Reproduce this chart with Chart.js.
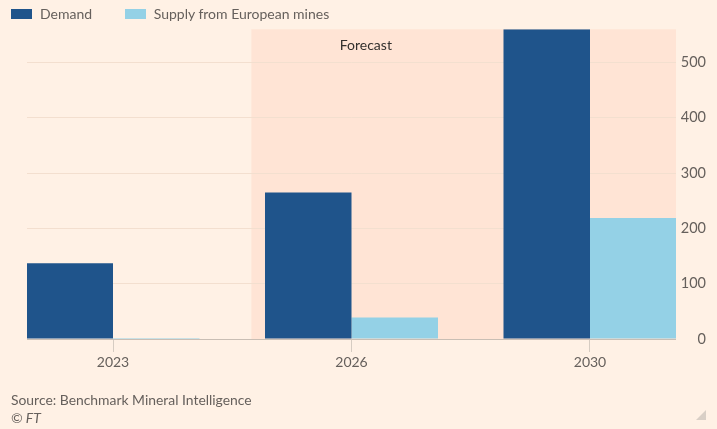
<!DOCTYPE html>
<html>
<head>
<meta charset="utf-8">
<script src="https://cdn.jsdelivr.net/npm/chart.js@4"></script>
<style>
  body { margin: 0; background: #fff1e5; font-family: Lato, "Noto Sans", sans-serif; }
  #wrap { position: relative; width: 717px; height: 429px; overflow: hidden; }
  #box { position: absolute; left: 0; top: 0; width: 717px; height: 429px; }
  .legend { position: absolute; top: 5px; left: 11px; font-size: 14px; color: #66605c; white-space: nowrap; }
  .legend span.sw { display: inline-block; width: 21px; height: 10px; vertical-align: 0px; margin-right: 8px; }
  .legend span.item { margin-right: 29px; }
  .foot { position: absolute; left: 11px; font-size: 13.9px; color: #66605c; }
</style>
</head>
<body>
<div id="wrap">
  <div id="box"><canvas id="chart"></canvas></div>
  <div class="legend">
    <span class="item"><span class="sw" style="background:#1f548b"></span>Demand</span>
    <span class="item"><span class="sw" style="background:#94d1e6"></span>Supply from European mines</span>
  </div>
  <div class="foot" style="top:391px">Source: Benchmark Mineral Intelligence</div>
  <div class="foot" style="top:409px;font-style:italic">© FT</div>
</div>
<script>
  const categories = ['2023', '2026', '2030'];
  const demand = [137, 265, 560];
  const supply = [2, 39, 219];
  const yTicks = [0, 100, 200, 300, 400, 500];
  const forecastFrom = 0.58;   // shading starts between 2023 and 2026
  const forecastLabel = 'Forecast';

  const shade = {
    id: 'shade',
    beforeDraw(chart) {
      const {ctx, chartArea, scales} = chart;
      const x0 = scales.x.getPixelForValue(forecastFrom);
      ctx.save();
      ctx.fillStyle = '#ffe4d5';
      ctx.fillRect(x0, chartArea.top, chartArea.right - x0, chartArea.bottom - chartArea.top);
      ctx.restore();
    },
    afterDraw(chart) {
      const {ctx, chartArea, scales} = chart;
      ctx.save();
      ctx.fillStyle = '#33302e';
      ctx.font = '14px Lato, "Noto Sans", sans-serif';
      ctx.textAlign = 'center';
      ctx.textBaseline = 'middle';
      ctx.fillText(forecastLabel, scales.x.getPixelForValue(1.06), chartArea.top + 16);
      // corner mark
      ctx.fillStyle = '#d9cfc6';
      ctx.beginPath();
      ctx.moveTo(706, 410);
      ctx.lineTo(706, 420);
      ctx.lineTo(696, 420);
      ctx.closePath();
      ctx.fill();
      ctx.restore();
    }
  };

  new Chart(document.getElementById('chart'), {
    type: 'bar',
    data: {
      datasets: [
        {
          label: 'Demand',
          data: demand.map((v, i) => ({x: i, y: v})),
          backgroundColor: '#1f548b'
        },
        {
          label: 'Supply from European mines',
          data: supply.map((v, i) => ({x: i, y: v})),
          backgroundColor: '#94d1e6'
        }
      ]
    },
    options: {
      responsive: true,
      maintainAspectRatio: false,
      animation: false,
      categoryPercentage: 0.7254,
      barPercentage: 1,
      layout: { padding: { left: 27, right: 11, top: 29.3, bottom: 0 } },
      plugins: {
        legend: { display: false },
        tooltip: { enabled: false }
      },
      scales: {
        x: {
          type: 'linear',
          offset: false,
          min: -0.3606,
          max: 2.3606,
          afterBuildTicks: (s) => { s.ticks = categories.map((c, i) => ({value: i})); },
          afterFit: (s) => { s.height = 90; },
          ticks: {
            callback: (v) => categories[v],
            color: '#66605c',
            font: { size: 14, family: 'Lato, "Noto Sans", sans-serif' },
            padding: 2,
            maxRotation: 0
          },
          grid: { offset: false, drawOnChartArea: false, drawTicks: true, tickLength: 13, color: '#d6ccc2' },
          border: { display: false }
        },
        y: {
          position: 'right',
          min: 0,
          max: 560,
          afterBuildTicks: (s) => { s.ticks = yTicks.map(v => ({value: v})); },
          afterFit: (s) => { s.width = 30; },
          ticks: {
            crossAlign: 'far',
            padding: 4,
            color: '#66605c',
            font: { size: 14.5, family: 'Lato, "Noto Sans", sans-serif' }
          },
          grid: {
            drawTicks: false,
            color: (c) => c.tick && c.tick.value === 0 ? '#c9beb4' : '#f3dfcf'
          },
          border: { display: false }
        }
      }
    },
    plugins: [shade]
  });
</script>
</body>
</html>
